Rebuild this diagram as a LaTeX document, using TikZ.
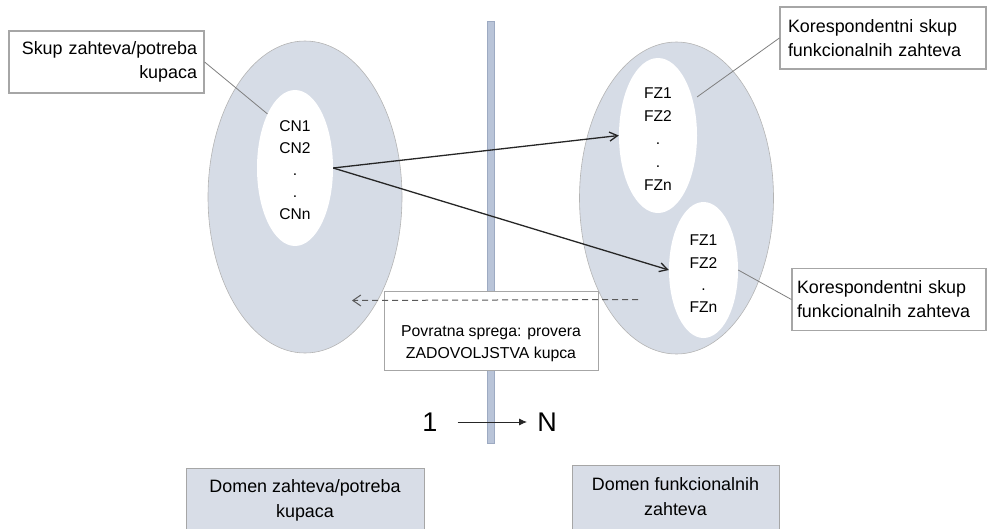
\documentclass[tikz,border=0pt]{standalone}
\usepackage{fontspec}
\setmainfont{Liberation Sans}
\usetikzlibrary{shapes.geometric, arrows.meta}
\hyphenpenalty=10000

\definecolor{domainfill}{HTML}{D6DCE6}
\definecolor{domainline}{HTML}{B4B4B4}
\definecolor{barfill}{HTML}{B9C4D8}
\definecolor{barline}{HTML}{9DAAC2}
\definecolor{boxline}{HTML}{A6A6A6}
\definecolor{leader}{HTML}{7F7F7F}
\definecolor{labelfill}{HTML}{D8DDE7}

\begin{document}
\begin{tikzpicture}[x=1pt, y=-1pt,
  domainshape/.style={ellipse, draw=domainline, line width=0.6pt, fill=domainfill,
    inner sep=0pt, minimum width=194pt, minimum height=312pt},
  subset/.style={ellipse, fill=white, inner sep=0pt},
  setlabel/.style={align=center, inner sep=0pt},
  callout/.style={draw=boxline, line width=1.2pt, fill=white,
    font=\fontsize{17.9}{24}\selectfont,
    minimum height=62pt, inner ysep=0pt},
  domainbox/.style={draw=boxline, line width=1pt, fill=labelfill,
    font=\fontsize{17.9}{25}\selectfont, align=center, minimum height=64pt},
  leaderline/.style={draw=leader, line width=0.8pt},
  maparrow/.style={draw=black!85, line width=1.3pt,
    -{Straight Barb[length=8pt,width=9pt]}},
  feedback/.style={draw=black!65, line width=1pt, dash pattern=on 6pt off 4pt,
    -{Straight Barb[length=8pt,width=11pt]}},
]
\useasboundingbox (0,0) rectangle (987,528);

% the two domains
\node[domainshape] (cdom) at (305,197) {};
\node[domainshape] (fdom) at (676.5,198) {};

% sets inside the domains
\node[subset, minimum width=76pt, minimum height=156pt] (cn) at (295,168) {};
\node[subset, minimum width=78pt, minimum height=155pt] (fzt) at (658,135.5) {};
\node[subset, minimum width=69pt, minimum height=136pt] (fzb) at (703.5,270) {};

% dividing bar between the domains
\node[rectangle, fill=barfill, draw=barline, line width=0.6pt, inner sep=0pt,
  minimum width=7pt, minimum height=422pt] (bar) at (490.5,232) {};

% set contents
\node[setlabel, font=\fontsize{15.6}{22}\selectfont] (cnlab) at (295,170)
  {CN1\\CN2\\.\\.\\CNn};
\node[setlabel, font=\fontsize{15.6}{23}\selectfont] (fztlab) at (658,139)
  {FZ1\\FZ2\\.\\.\\FZn};
\node[setlabel, font=\fontsize{15.6}{22.3}\selectfont] (fzblab) at (703.5,274)
  {FZ1\\FZ2\\.\\FZn};

% mapping of customer needs to functional requirements
\draw[maparrow] (cn.east) -- (fzt.west);
\draw[maparrow] (cn.east) -- (fzb.west);

% feedback loop
\node[rectangle, draw=boxline, line width=1pt, fill=white,
  minimum width=214pt, minimum height=79pt, inner sep=0pt] (fb) at (491,330.5) {};
\node[setlabel, font=\fontsize{15.8}{22}\selectfont] (fbtext) at (491,344)
  {Povratna sprega: provera\\ZADOVOLJSTVA kupca};
\coordinate (fbstart) at (638,299.5);
\coordinate (fbend) at (352,300.5);
\draw[feedback] (fbstart) -- (fbend);

% callouts
\node[callout, align=right, text width=181pt, inner xsep=7pt] (cnnote) at (106.5,62)
  {Skup zahteva/potreba\\kupaca};
\node[callout, align=left, text width=190pt, inner xsep=8pt] (fztnote) at (883,38)
  {Korespondentni skup\\funkcionalnih zahteva};
\node[callout, align=left, text width=184pt, inner xsep=5pt] (fzbnote) at (889,299.5)
  {Korespondentni skup\\funkcionalnih zahteva};
\coordinate (fztip) at (697,97);
\draw[leaderline] (cnnote.east) -- (cn.117);
\draw[leaderline] (fztnote.west) -- (fztip);
\draw[leaderline] (fzbnote.west) -- (fzb.east);

% cardinality
\node[inner sep=0pt, font=\fontsize{27}{30}\selectfont] (one) at (430,422) {1};
\node[inner sep=0pt, font=\fontsize{27}{30}\selectfont] (enn) at (547,422) {N};
\draw[black!85, line width=0.9pt, -{Latex[length=8pt,width=7pt]},
  shorten <=20pt, shorten >=10pt] (one.east) -- (enn.west);

% domain names
\node[domainbox, minimum width=238pt] (cname) at (305,500)
  {Domen zahteva/potreba\\kupaca};
\node[domainbox, minimum width=207pt] (fname) at (675.5,497)
  {Domen funkcionalnih\\zahteva};
\end{tikzpicture}
\end{document}
